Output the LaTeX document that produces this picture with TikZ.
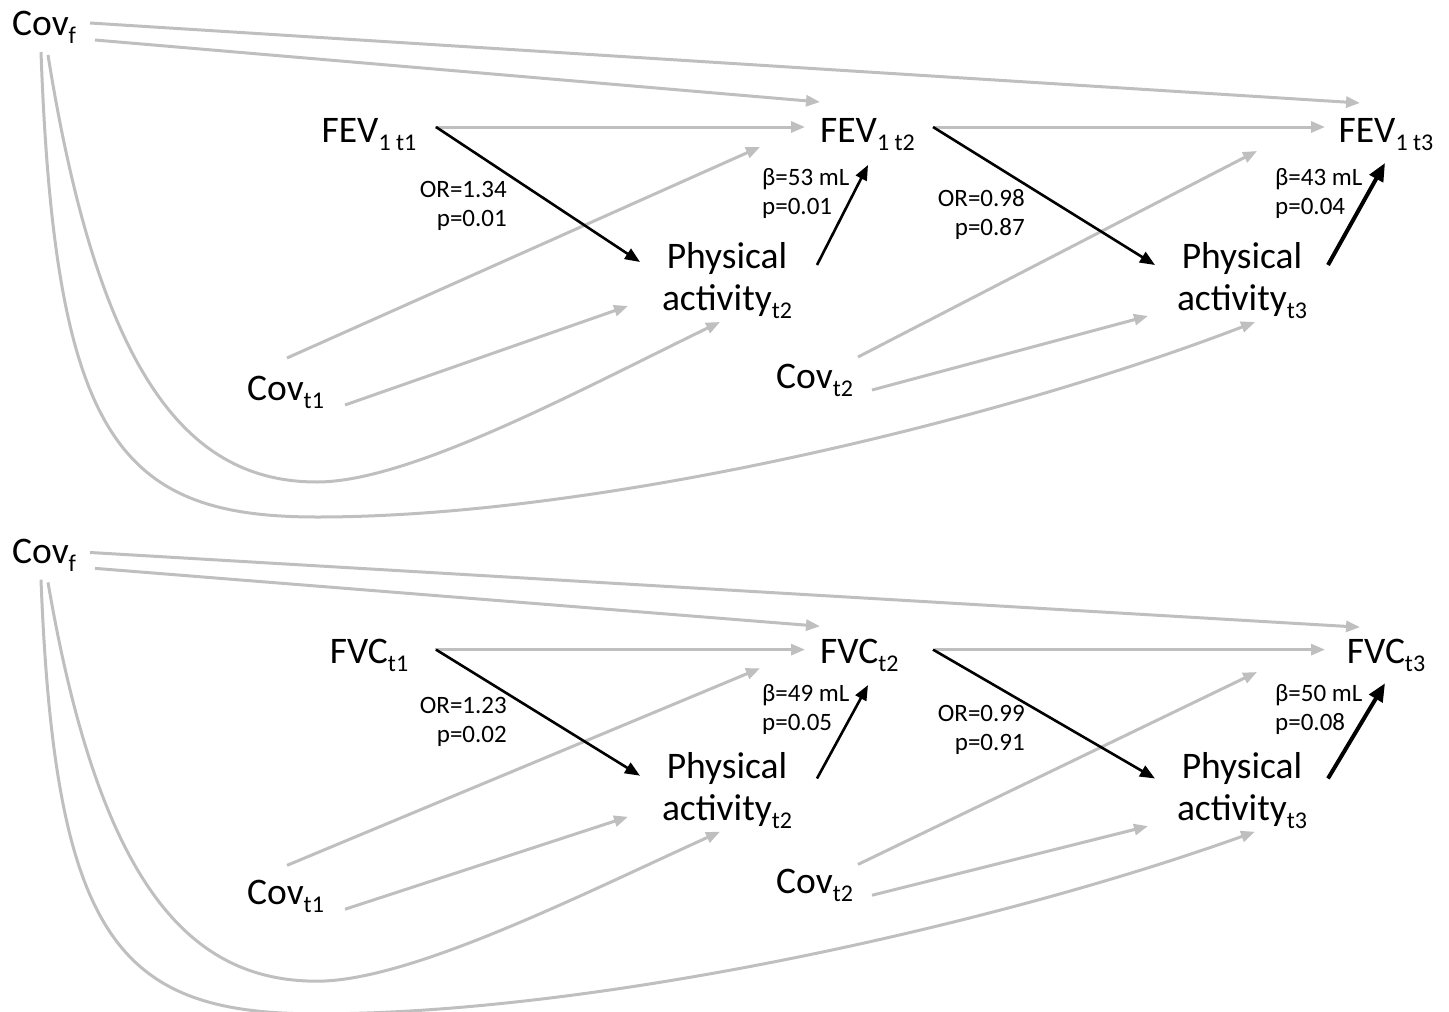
\documentclass[tikz,border=0pt]{standalone}
\usepackage{fontspec}
\setmainfont{Carlito}
\usetikzlibrary{arrows.meta,calc}
\definecolor{lgray}{RGB}{191,191,191}
\newcommand\sbs[1]{\raisebox{-0.22em}{\fontsize{24}{24}\selectfont #1}}
\tikzset{
  lab/.style={inner sep=0pt, font=\fontsize{37.5}{42}\selectfont},
  stat/.style={inner sep=0pt, font=\fontsize{25}{29}\selectfont},
  garr/.style={draw=lgray, line width=3pt, -{Triangle[length=14pt,width=11pt]}},
  barr/.style={draw=black, line width=2.6pt, -{Triangle[length=15pt,width=12pt]}},
  bbarr/.style={draw=black, line width=4pt, -{Triangle[length=18pt,width=15pt]}}
}
% #1 prefix, #2 t1 label, #3 t2 label, #4 t3 label, #5-#8 statistics
\newcommand\drawpanel[8]{%
  \node[lab, anchor=base west] (#1covf) at (12,35) {Cov\sbs{f}};
  \node[lab, anchor=base] (#1y1) at (369,142) {#2};
  \node[lab, anchor=base west] (#1y2) at (820,142) {#3};
  \node[lab, anchor=base] (#1y3) at (1386,142) {#4};
  \node[lab, anchor=base, align=center] (#1pa2) at (727,310) {Physical\\activity\sbs{t2}};
  \node[lab, anchor=base, align=center] (#1pa3) at (1242,310) {Physical\\activity\sbs{t3}};
  \node[lab, anchor=base west] (#1cov1) at (247,400) {Cov\sbs{t1}};
  \node[lab, anchor=base west] (#1cov2) at (776,388) {Cov\sbs{t2}};
  \node[stat, anchor=base east, align=right] (#1s1) at (507,226) {#5};
  \node[stat, anchor=base west, align=left] (#1s2) at (762,214) {#6};
  \node[stat, anchor=base east, align=right] (#1s3) at (1025,235) {#7};
  \node[stat, anchor=base west, align=left] (#1s4) at (1275,214) {#8};
  % grey connectors
  \draw[garr] ($(#1covf.base west)+(78,-12)$) -- ($(#1y3.base)+(-26,-39)$);
  \draw[garr] ($(#1covf.base west)+(83,5)$) -- ($(#1y2.base west)+(0,-40)$);
  \draw[garr] ($(#1covf.base west)+(36,20)$) .. controls (100,380) and (190,482) .. (317,482)
     .. controls (410,482) and (580,390) .. ($(#1pa2.base)+(-7,12)$);
  \draw[garr] ($(#1covf.base west)+(29,17)$) .. controls (55,440) and (120,517) .. (317,517)
     .. controls (600,517) and (1000,420) .. ($(#1pa3.base)+(13,12)$);
  \draw[garr] ($(#1y1.base)+(66,-15)$) -- ($(#1y2.base west)+(-15,-15)$);
  \draw[garr] ($(#1y2.base west)+(115,-15)$) -- ($(#1y3.base)+(-61,-15)$);
  \draw[garr] ($(#1cov1.base west)+(40,-42)$) -- ($(#1y2.base west)+(-60,5)$);
  \draw[garr] ($(#1cov1.base west)+(98,5)$) -- ($(#1pa2.base)+(-99,-4)$);
  \draw[garr] ($(#1cov2.base west)+(82,-31)$) -- ($(#1y3.base)+(-129,9)$);
  \draw[garr] ($(#1cov2.base west)+(96,2)$) -- ($(#1pa3.base)+(-94,6)$);
  % black connectors
  \draw[barr] ($(#1y1.base)+(67,-15)$) -- ($(#1pa2.base)+(-87,-48)$);
  \draw[barr] ($(#1pa2.base)+(90,-45)$) -- ($(#1y2.base west)+(48,23)$);
  \draw[barr] ($(#1y2.base west)+(113,-15)$) -- ($(#1pa3.base)+(-87,-45)$);
  \draw[bbarr] ($(#1pa3.base)+(86,-45)$) -- ($(#1y3.base)+(-1,21)$);
}
\begin{document}
\begin{tikzpicture}[x=1pt, y=-1pt]
  \useasboundingbox (0,0) rectangle (1449,1012);
  \drawpanel{a}{FEV\sbs{1 t1}}{FEV\sbs{1 t2}}{FEV\sbs{1 t3}}%
    {OR=1.34\\p=0.01}{β=53 mL\\p=0.01}{OR=0.98\\p=0.87}{β=43 mL\\p=0.04}
  \begin{scope}[shift={(0,531)}, yscale=0.934]
    \drawpanel{b}{FVC\sbs{t1}}{FVC\sbs{t2}}{FVC\sbs{t3}}%
      {OR=1.23\\p=0.02}{β=49 mL\\p=0.05}{OR=0.99\\p=0.91}{β=50 mL\\p=0.08}
  \end{scope}
\end{tikzpicture}
\end{document}
